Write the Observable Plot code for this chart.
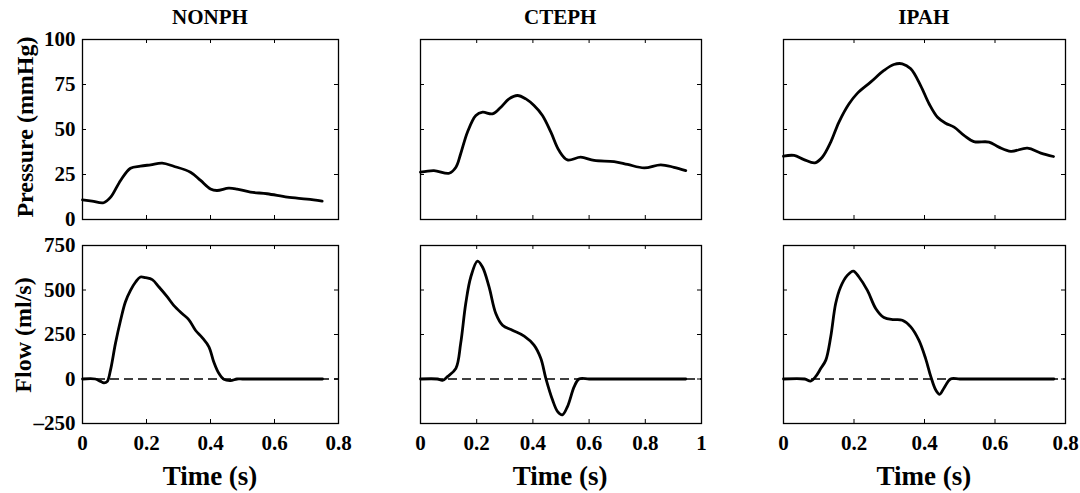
<!DOCTYPE html>
<html><head><meta charset="utf-8">
<script src="https://cdn.jsdelivr.net/npm/d3@7"></script>
<script src="https://cdn.jsdelivr.net/npm/@observablehq/plot@0.6"></script>
<style>
html,body{margin:0;padding:0;background:#fff;}
#root{position:relative;width:1080px;height:493px;overflow:hidden;font-family:"Liberation Serif","Times New Roman",serif;font-weight:bold;color:#000;background:#fff;}
.lbl{position:absolute;white-space:nowrap;line-height:1;}
</style></head><body><div id="root"></div>
<script>
// ---- data ----
const groups = ["NONPH", "CTEPH", "IPAH"];
const pressureTicks = [0, 25, 50, 75, 100];
const flowTicks = [-250, 0, 250, 500, 750];
const nonphTimeTicks = [0, 0.2, 0.4, 0.6, 0.8];
const ctephTimeTicks = [0, 0.2, 0.4, 0.6, 0.8, 1];
const ipahTimeTicks = [0, 0.2, 0.4, 0.6, 0.8];

const nonphPressure = [[0,10.9],[0.03,10.2],[0.066,9.3],[0.088,12.4],[0.119,21.7],[0.15,28.5],[0.181,29.6],[0.213,30.4],[0.249,31.3],[0.285,29.6],[0.3375,26.3],[0.369,21.7],[0.4,17],[0.42,16.1],[0.457,17.4],[0.483,16.9],[0.525,15.2],[0.577,14.3],[0.64,12.4],[0.702,11.3],[0.749,10.2]];
const nonphFlow = [[0,0],[0.04,0],[0.055,-12],[0.067,-22],[0.077,-15],[0.0875,50],[0.103,200],[0.119,330],[0.134,433],[0.15,498],[0.166,545],[0.181,573],[0.197,569],[0.218,558],[0.239,517],[0.265,461],[0.285,414],[0.311,368],[0.332,334],[0.353,274],[0.374,233],[0.395,181],[0.41,97],[0.426,32],[0.442,-2],[0.4625,-9],[0.483,0],[0.5,0],[0.55,0],[0.75,0]];
const ctephPressure = [[0,26.3],[0.048,27.2],[0.102,25.7],[0.126,29],[0.143,36.5],[0.167,48.5],[0.197,57.8],[0.221,59.6],[0.256,58.7],[0.286,62.4],[0.315,67],[0.345,68.9],[0.375,67],[0.404,63.3],[0.434,57.8],[0.464,48.5],[0.493,38.3],[0.523,33.1],[0.57,34.6],[0.618,32.8],[0.689,32.2],[0.737,30.6],[0.796,28.7],[0.855,30.4],[0.902,29],[0.944,27.2]];
const ctephFlow = [[0,0],[0.06,0],[0.078,-8],[0.096,13],[0.126,60],[0.143,200],[0.161,424],[0.179,573],[0.203,662],[0.221,628],[0.244,517],[0.268,368],[0.292,302],[0.327,274],[0.369,241],[0.404,190],[0.428,116],[0.446,4],[0.47,-118],[0.488,-183],[0.505,-201],[0.523,-155],[0.547,-43],[0.564,0],[0.6,0],[0.65,0],[0.944,0]];
const ipahPressure = [[0,35.2],[0.03,35.6],[0.058,33.3],[0.089,31.5],[0.11,34.6],[0.134,43],[0.157,54],[0.186,64.3],[0.21,70.2],[0.247,76.3],[0.285,82.8],[0.313,86.1],[0.337,86.5],[0.361,83.7],[0.389,74.4],[0.413,64.3],[0.437,56.8],[0.46,53.5],[0.484,51.3],[0.512,46.7],[0.54,43.3],[0.583,43],[0.611,40.2],[0.645,37.9],[0.692,39.6],[0.73,36.9],[0.766,35]];
const ipahFlow = [[0,0],[0.06,0],[0.077,-12],[0.091,13],[0.106,60],[0.12,106],[0.134,237],[0.148,424],[0.162,517],[0.181,582],[0.198,606],[0.214,573],[0.238,498],[0.262,395],[0.285,345],[0.313,334],[0.337,330],[0.361,293],[0.384,218],[0.403,116],[0.418,13],[0.432,-62],[0.443,-86],[0.455,-52],[0.474,0],[0.5,0],[0.55,0],[0.767,0]];

const pressureLabel = "Pressure (mmHg)";
const flowLabel = "Flow (ml/s)";
const timeLabel = "Time (s)";

// ---- layout ----
const cols = [
  {left: 82, w: 256, ticks: nonphTimeTicks, domain: [0, 0.8], p: nonphPressure, f: nonphFlow},
  {left: 419.7, w: 281, ticks: ctephTimeTicks, domain: [0, 1], p: ctephPressure, f: ctephFlow},
  {left: 782.8, w: 282, ticks: ipahTimeTicks, domain: [0, 0.8], p: ipahPressure, f: ipahFlow}
];
const rows = [
  {top: 39, h: 180, domain: [0, 100], ticks: pressureTicks, key: "p", zero: false},
  {top: 245, h: 178, domain: [-250, 750], ticks: flowTicks, key: "f", zero: true}
];

const fmt = d => d < 0 ? "\u2013" + (-d) : String(d);
const root = document.getElementById("root");

function panel(col, row, ci, ri) {
  const mL = 70, mR = 20, mT = 10, mB = 40;
  const w = col.w, h = row.h;
  const data = col[row.key].map(([t, v]) => ({t, v}));
  const marks = [];
  if (row.zero) marks.push(Plot.ruleY([0], {stroke: "#000", strokeWidth: 1.4, strokeDasharray: "9,5"}));
  marks.push(Plot.line(data, {x: "t", y: "v", curve: "catmull-rom", stroke: "#000", strokeWidth: 2.8, strokeLinejoin: "round", strokeLinecap: "round"}));
  marks.push(Plot.ruleX(col.ticks, {x: d => d, insetTop: h - 4, stroke: "#000", strokeWidth: 1}));
  marks.push(Plot.ruleX(col.ticks, {x: d => d, insetBottom: h - 4, stroke: "#000", strokeWidth: 1}));
  marks.push(Plot.ruleY(row.ticks, {y: d => d, insetRight: w - 4, stroke: "#000", strokeWidth: 1}));
  marks.push(Plot.ruleY(row.ticks, {y: d => d, insetLeft: w - 4, stroke: "#000", strokeWidth: 1}));
  marks.push(Plot.frame({stroke: "#000", strokeWidth: 1.3}));
  const svg = Plot.plot({
    width: w + mL + mR, height: h + mT + mB,
    marginLeft: mL, marginRight: mR, marginTop: mT, marginBottom: mB,
    style: {background: "transparent", overflow: "visible", fontFamily: "'Liberation Serif','Times New Roman',serif", fontSize: "21px", fontWeight: "bold", color: "#000", maxWidth: "none"},
    x: {domain: col.domain, ticks: col.ticks, tickFormat: fmt, tickSize: 0, tickPadding: 12, label: null, axis: ri === 1 ? "bottom" : null},
    y: {domain: row.domain, ticks: row.ticks, tickFormat: fmt, tickSize: 0, tickPadding: 7, label: null, axis: ci === 0 ? "left" : null},
    marks
  });
  svg.style.position = "absolute";
  svg.style.left = (col.left - mL) + "px";
  svg.style.top = (row.top - mT) + "px";
  root.appendChild(svg);
}

cols.forEach((c, ci) => rows.forEach((r, ri) => panel(c, r, ci, ri)));

function label(text, x, y, size, rotate) {
  const d = document.createElement("div");
  d.className = "lbl";
  d.textContent = text;
  d.style.fontSize = size + "px";
  d.style.left = x + "px";
  d.style.top = y + "px";
  d.style.transform = "translate(-50%,-50%)" + (rotate ? " rotate(-90deg)" : "");
  root.appendChild(d);
}

groups.forEach((g, i) => {
  const c = cols[i];
  label(g, c.left + c.w / 2, 17, 21, false);
  label(timeLabel, c.left + c.w / 2, 476, 27, false);
});
label(pressureLabel, 25, 127, 24, true);
label(flowLabel, 23, 335, 24, true);
</script></body></html>
